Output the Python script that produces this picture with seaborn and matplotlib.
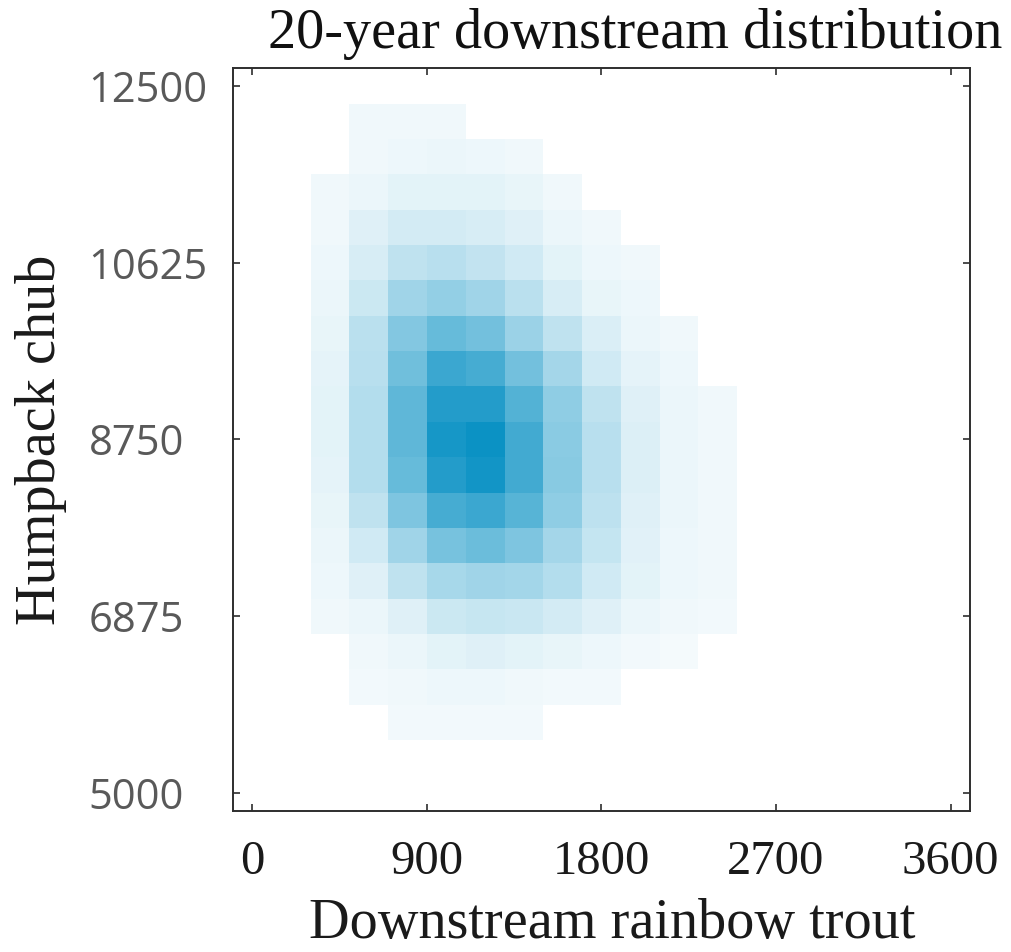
import numpy as np
import pandas as pd
import matplotlib
matplotlib.use("Agg")
import matplotlib.pyplot as plt
import seaborn as sns
from matplotlib.colors import LinearSegmentedColormap

# centros das celulas
trout_centers = [400, 600, 800, 1000, 1200, 1400, 1600, 1800, 2000, 2200, 2400]
chub_centers = [12125, 11750, 11375, 11000, 10625, 10250, 9875, 9500, 9125,
                8750, 8375, 8000, 7625, 7250, 6875, 6500, 6125, 5750]

# intensidade relativa de cada celula (linha = chub, de cima para baixo), 0 = vazio
counts = [
    [0, 5, 5, 5, 0, 0, 0, 0, 0, 0, 0],
    [0, 5, 6, 7, 6, 5, 0, 0, 0, 0, 0],
    [5, 7, 10, 10, 10, 8, 5, 0, 0, 0, 0],
    [5, 12, 17, 17, 15, 12, 7, 5, 0, 0, 0],
    [6, 15, 25, 28, 24, 18, 10, 6, 5, 0, 0],
    [7, 20, 38, 43, 38, 27, 15, 8, 6, 0, 0],
    [8, 27, 50, 62, 57, 40, 25, 14, 7, 5, 0],
    [9, 28, 58, 80, 75, 57, 36, 18, 9, 6, 0],
    [10, 30, 65, 90, 90, 70, 45, 25, 12, 7, 5],
    [10, 30, 65, 95, 100, 77, 47, 28, 13, 7, 5],
    [9, 30, 62, 90, 97, 77, 48, 28, 13, 7, 5],
    [8, 25, 52, 75, 80, 68, 45, 26, 12, 7, 5],
    [7, 18, 38, 55, 60, 52, 36, 23, 11, 6, 5],
    [6, 12, 25, 35, 38, 37, 30, 18, 10, 6, 5],
    [5, 7, 12, 20, 22, 21, 17, 12, 7, 5, 4],
    [0, 5, 7, 10, 12, 10, 8, 6, 4, 3, 0],
    [0, 4, 5, 6, 6, 5, 4, 4, 0, 0, 0],
    [0, 0, 4, 4, 4, 4, 0, 0, 0, 0, 0],
]

x_ticks = [0, 900, 1800, 2700, 3600]
y_ticks = [5000, 6875, 8750, 10625, 12500]

# tabela longa para o histplot
linhas = []
for i, chub in enumerate(chub_centers):
    for j, trout in enumerate(trout_centers):
        if counts[i][j] > 0:
            linhas.append((trout, chub, counts[i][j]))
df = pd.DataFrame(linhas, columns=["trout", "chub", "count"])

# bordas das celulas a partir dos centros
xc = np.array(trout_centers, dtype=float)
yc = np.sort(np.array(chub_centers, dtype=float))
x_edges = np.append(xc - 100, xc[-1] + 100)
y_edges = np.append(yc - 187.5, yc[-1] + 187.5)

sns.set_style("ticks")
plt.rcParams["font.family"] = ["Liberation Serif", "DejaVu Serif"]

serif = "Liberation Serif"
cmap = LinearSegmentedColormap.from_list("azul", ["#fbfdfe", "#0b92c4"])

fig = plt.figure(figsize=(10.12, 9.52), dpi=100)
ax = fig.add_axes([0.2302, 0.1484, 0.7283, 0.7799])

sns.histplot(data=df, x="trout", y="chub", weights="count",
             bins=[x_edges, y_edges], cmap=cmap, vmin=0, vmax=100, ax=ax)

ax.set_xlim(-100, 3700)
ax.set_ylim(4812.5, 12687.5)

ax.set_xticks(x_ticks, labels=[str(v) for v in x_ticks],
              fontfamily=serif, fontsize=35, color="#1a1a1a")
ax.set_yticks(y_ticks, labels=[str(v) for v in y_ticks],
              fontfamily="Open Sans", fontsize=30, color="#595959", ha="left")
ax.tick_params(axis="both", direction="in", top=True, right=True,
               length=5, width=1.2, color="#2e2e2e")
ax.tick_params(axis="x", pad=21)
ax.tick_params(axis="y", pad=104)

for s in ax.spines.values():
    s.set_visible(True)
    s.set_color("#2e2e2e")
    s.set_linewidth(1.4)

ax.set_xlabel("Downstream rainbow trout", fontfamily=serif, fontsize=40.5, color="#1a1a1a")
ax.xaxis.set_label_coords(0.514, -0.118)
ax.set_ylabel("Humpback chub", fontfamily=serif, fontsize=40.5, color="#1a1a1a")
ax.yaxis.set_label_coords(-0.225, 0.5)
ax.set_title("20-year downstream distribution", fontfamily=serif, fontsize=40.5,
             color="#111111", x=0.546, y=1.027, pad=0)

fig.savefig("out.png", dpi=100)
